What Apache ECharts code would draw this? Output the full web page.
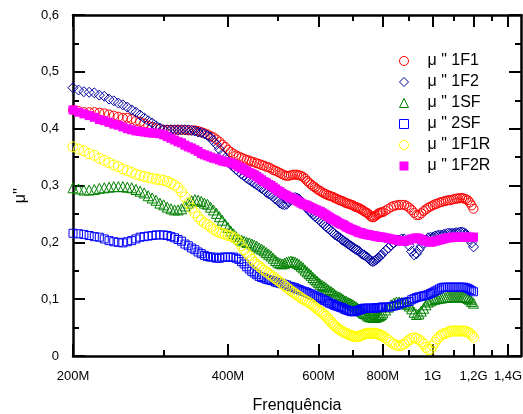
<!DOCTYPE html>
<html><head><meta charset="utf-8">
<script src="https://cdn.jsdelivr.net/npm/echarts@6/dist/echarts.min.js"></script>
<style>html,body{margin:0;padding:0;background:#fff}#c{width:523px;height:414px}</style>
</head><body><div id="c"></div>
<script>
// Frequency samples (MHz)
const freqMHz = [
200,205,210,215,220,225,230,235,240,245,
250,255,260,265,270,275,280,285,290,295,
300,305,310,315,320,325,330,335,340,345,
350,355,360,365,370,375,380,385,390,395,
400,
405,410,415,420,425,430,435,440,445,450,
455,460,465,470,475,480,485,490,495,500,
505,510,515,520,525,530,535,540,545,550,
555,560,565,570,575,580,585,590,595,600,
605,610,615,620,625,630,635,640,645,650,
655,660,665,670,675,680,685,690,695,700,
705,710,715,720,725,730,735,740,745,750,
755,760,765,770,775,780,785,790,795,800,
810,820,830,840,850,860,870,880,890,900,
910,920,930,940,950,960,970,980,990,1000,
1010,1020,1030,1040,1050,1060,1070,1080,1090,1100,
1110,1120,1130,1140,1150,1160,1170,1180,1190,1200];

const s1F1 = [
.433,.431,.429,.429,.429,.428,.427,.425,.423,.421,
.419,.419,.417,.414,.412,.409,.405,.403,.401,.400,
.398,.398,.398,.398,.398,.398,.398,.397,.397,.397,
.396,.394,.392,.390,.387,.385,.381,.377,.372,.368,
.363,
.359,.356,.353,.351,.349,.347,.345,.344,.342,.341,
.339,.338,.336,.335,.333,.332,.330,.327,.326,.324,
.322,.320,.318,.317,.317,.318,.319,.319,.319,.318,
.317,.315,.312,.308,.305,.302,.299,.297,.294,.292,
.290,.288,.286,.285,.283,.282,.281,.280,.278,.277,
.275,.274,.273,.272,.270,.269,.268,.267,.266,.265,
.263,.262,.261,.260,.258,.257,.255,.253,.252,.250,
.247,.245,.244,.245,.247,.249,.251,.252,.253,.253,
.256,.259,.262,.264,.265,.266,.266,.266,.264,.261,
.257,.252,.248,.248,.251,.255,.258,.261,.263,.265,
.267,.268,.270,.271,.272,.273,.274,.274,.275,.276,
.277,.277,.278,.278,.277,.276,.274,.270,.265,.259];

const s1F2 = [
.472,.468,.465,.464,.463,.459,.457,.452,.449,.445,
.442,.438,.433,.429,.424,.419,.414,.410,.405,.401,
.398,.398,.398,.398,.398,.398,.398,.398,.397,.396,
.394,.393,.391,.388,.385,.378,.372,.364,.355,.348,
.341,
.337,.333,.328,.324,.320,.317,.313,.310,.307,.304,
.301,.298,.295,.292,.288,.285,.283,.280,.276,.273,
.269,.267,.266,.267,.271,.275,.278,.279,.278,.276,
.272,.268,.264,.260,.256,.253,.249,.246,.243,.240,
.237,.234,.231,.228,.225,.223,.220,.217,.214,.212,
.210,.208,.205,.203,.201,.199,.197,.195,.193,.191,
.189,.187,.186,.184,.181,.179,.178,.176,.174,.172,
.169,.167,.166,.167,.169,.171,.173,.176,.178,.181,
.186,.190,.195,.199,.202,.204,.206,.206,.202,.194,
.184,.178,.180,.187,.193,.199,.204,.208,.209,.209,
.211,.212,.213,.213,.214,.215,.216,.216,.216,.216,
.217,.217,.218,.218,.217,.215,.211,.206,.199,.192];

const s1SF = [
.296,.294,.292,.292,.293,.295,.296,.297,.298,.298,
.298,.297,.296,.293,.290,.287,.282,.278,.274,.269,
.266,.262,.259,.257,.257,.259,.264,.269,.273,.275,
.274,.272,.269,.267,.262,.257,.251,.245,.239,.232,
.226,
.220,.215,.210,.206,.204,.202,.200,.199,.197,.195,
.193,.190,.188,.185,.182,.179,.176,.172,.168,.165,
.163,.162,.163,.165,.166,.167,.166,.165,.163,.161,
.158,.155,.151,.148,.145,.142,.138,.135,.132,.129,
.126,.124,.122,.120,.117,.115,.113,.111,.108,.106,
.104,.103,.101,.099,.097,.096,.094,.093,.091,.090,
.088,.086,.084,.082,.079,.077,.075,.074,.072,.070,
.069,.069,.068,.068,.068,.069,.070,.071,.073,.076,
.081,.086,.090,.093,.095,.095,.094,.093,.091,.088,
.083,.077,.073,.074,.079,.084,.090,.095,.097,.099,
.100,.101,.102,.102,.103,.103,.104,.104,.104,.104,
.104,.104,.104,.104,.104,.103,.101,.099,.096,.093];

const s2SF = [
.216,.215,.214,.212,.210,.209,.206,.203,.201,.200,
.199,.201,.203,.206,.209,.210,.211,.212,.213,.213,
.213,.212,.210,.208,.205,.202,.197,.194,.190,.187,
.183,.180,.177,.175,.174,.174,.172,.172,.174,.174,
.174,
.174,.174,.172,.170,.166,.162,.157,.153,.149,.146,
.143,.140,.138,.137,.135,.134,.133,.132,.130,.129,
.128,.127,.126,.125,.123,.122,.121,.120,.118,.117,
.115,.114,.113,.112,.110,.109,.107,.106,.104,.103,
.101,.100,.098,.097,.095,.093,.092,.091,.089,.088,
.087,.086,.085,.084,.082,.081,.080,.079,.078,.078,
.078,.079,.080,.081,.082,.083,.084,.084,.084,.084,
.084,.084,.084,.084,.085,.085,.085,.085,.086,.086,
.086,.086,.087,.088,.089,.091,.093,.094,.095,.096,
.099,.101,.103,.104,.105,.106,.107,.108,.110,.112,
.114,.116,.118,.120,.121,.121,.121,.121,.121,.121,
.121,.121,.121,.121,.121,.120,.119,.117,.115,.113];

const s1F1R = [
.368,.364,.361,.356,.353,.348,.344,.340,.336,.333,
.329,.326,.323,.320,.318,.316,.314,.313,.311,.310,
.309,.307,.304,.301,.296,.289,.280,.269,.260,.252,
.245,.239,.234,.231,.227,.223,.220,.217,.216,.214,
.212,
.211,.209,.206,.201,.194,.187,.181,.176,.170,.165,
.161,.158,.154,.151,.148,.145,.142,.139,.136,.133,
.130,.127,.124,.121,.118,.115,.112,.110,.107,.105,
.102,.100,.098,.096,.094,.092,.089,.086,.083,.081,
.078,.076,.073,.070,.066,.063,.059,.056,.053,.050,
.048,.046,.044,.042,.041,.040,.038,.037,.036,.035,
.034,.034,.034,.035,.036,.037,.038,.039,.040,.040,
.040,.040,.040,.040,.040,.039,.038,.037,.036,.035,
.032,.028,.024,.021,.019,.018,.019,.021,.025,.028,
.031,.032,.031,.029,.025,.021,.015,.011,.012,.018,
.024,.030,.034,.037,.039,.040,.042,.043,.044,.044,
.044,.044,.044,.044,.044,.043,.042,.040,.037,.033];

const s1F2R = [
.433,.429,.426,.423,.420,.416,.414,.411,.408,.406,
.403,.400,.398,.396,.395,.394,.393,.392,.392,.391,
.389,.386,.383,.380,.377,.375,.371,.368,.366,.363,
.360,.356,.354,.352,.350,.348,.347,.345,.343,.342,
.341,
.340,.338,.336,.333,.331,.328,.326,.323,.321,.319,
.316,.313,.310,.307,.305,.302,.300,.297,.294,.291,
.289,.286,.284,.282,.280,.278,.277,.275,.273,.271,
.269,.267,.266,.265,.263,.261,.260,.258,.257,.255,
.254,.252,.250,.248,.246,.244,.242,.240,.239,.237,
.235,.233,.232,.231,.229,.227,.226,.224,.223,.222,
.221,.220,.218,.217,.217,.216,.215,.214,.214,.213,
.213,.212,.212,.211,.211,.210,.210,.209,.209,.209,
.208,.207,.206,.205,.204,.203,.202,.202,.203,.204,
.206,.207,.208,.207,.205,.203,.202,.201,.200,.201,
.202,.203,.204,.205,.206,.207,.208,.208,.209,.209,
.209,.209,.209,.209,.209,.209,.209,.209,.209,.209];

const seriesNames = ['μ " 1F1','μ " 1F2','μ " 1SF','μ " 2SF','μ " 1F1R','μ " 1F2R'];
const xMajorMHz = [200,400,600,800,1000,1200,1400];
const xMajorLabels = ['200M','400M','600M','800M','1G','1,2G','1,4G'];
const xMinorMHz = [300,500,700,900,1100,1300];
const xMinMHz = 200, xMaxMHz = 1484;
const yMin = 0, yMax = 0.6, yStep = 0.1;
const xTitle = 'Frenquência', yTitle = "μ''";

const FONT = 'Arial, "Liberation Sans", Helvetica, sans-serif';
const lg = Math.log10;

function mk(name, vals, symbol, size, color, filled) {
  return {
    name, type: 'scatter', xAxisIndex: 0, yAxisIndex: 0,
    symbol, symbolSize: size, silent: true, animation: false,
    emphasis: {disabled: true},
    data: freqMHz.map((f, i) => [lg(f), vals[i]]),
    itemStyle: filled ? {color: color, opacity: 1}
      : {color: 'rgba(255,255,255,0)', borderColor: color, borderWidth: 1, opacity: 1}
  };
}

const axisLineStyle = {color: '#000', width: 2.5};
const tickMajor = {color: '#000', width: 2};
function xAx(pos, values, len, showLine, showLabel) {
  return {
    type: 'value', position: pos, min: lg(xMinMHz), max: lg(xMaxMHz),
    axisLine: {show: showLine, onZero: false, lineStyle: axisLineStyle},
    axisTick: {show: true, inside: true, length: len, lineStyle: tickMajor, customValues: values.map(lg)},
    axisLabel: showLabel ? {
      show: true, customValues: values.map(lg), margin: 14, color: '#000', fontSize: 13, fontFamily: FONT,
      formatter: v => { const i = xMajorMHz.indexOf(Math.round(Math.pow(10, v))); return i >= 0 ? xMajorLabels[i] : ''; }
    } : {show: false},
    splitLine: {show: false}, minorTick: {show: false}
  };
}
function yAx(pos, showLabel) {
  return {
    type: 'value', position: pos, min: yMin, max: yMax, interval: yStep,
    axisLine: {show: true, onZero: false, lineStyle: axisLineStyle},
    axisTick: {show: true, inside: true, length: 12, lineStyle: tickMajor},
    minorTick: {show: true, splitNumber: 2, length: 6, lineStyle: {color: '#000', width: 2}},
    axisLabel: showLabel ? {show: true, margin: 14, color: '#000', fontSize: 13, fontFamily: FONT,
      formatter: v => v === 0 ? '0' : v.toFixed(1).replace('.', ',')} : {show: false},
    splitLine: {show: false}
  };
}

const xAxes = [xAx('bottom', xMajorMHz, 12, true, true), xAx('bottom', xMinorMHz, 6, false, false),
               xAx('top', xMajorMHz, 12, true, false), xAx('top', xMinorMHz, 6, false, false)];
xAxes[0].name = xTitle; xAxes[0].nameLocation = 'middle'; xAxes[0].nameGap = 42;
xAxes[0].nameTextStyle = {fontSize: 16, color: '#000', fontFamily: FONT};
const yAxes = [yAx('left', true), yAx('right', false)];
yAxes[0].name = yTitle; yAxes[0].nameLocation = 'middle'; yAxes[0].nameGap = 44; yAxes[0].nameRotate = 90;
yAxes[0].nameTextStyle = {fontSize: 16, color: '#000', fontFamily: FONT, padding: [0, 20, 0, 0]};

const chart = echarts.init(document.getElementById('c'), null, {renderer: 'canvas'});
chart.setOption({
  animation: false,
  backgroundColor: '#fff',
  grid: {left: 73, right: 2, top: 15, bottom: 58, containLabel: false, outerBoundsMode: 'none'},
  xAxis: xAxes,
  yAxis: yAxes,
  legend: {
    orient: 'vertical', left: 399, top: 53, padding: 0, itemGap: 5,
    itemWidth: 9, itemHeight: 9, selectedMode: false,
    itemStyle: {borderWidth: 1},
    textStyle: {fontSize: 16, color: '#000', fontFamily: FONT, lineHeight: 16, padding: [0, 0, 0, 14]},
    data: seriesNames
  },
  series: [
    mk(seriesNames[0], s1F1, 'circle', 9, '#ff0000', false),
    mk(seriesNames[1], s1F2, 'diamond', 10, '#0000a0', false),
    mk(seriesNames[2], s1SF, 'triangle', 10, '#008000', false),
    mk(seriesNames[3], s2SF, 'rect', 8, '#0000ff', false),
    mk(seriesNames[4], s1F1R, 'circle', 10, '#ffff00', false),
    mk(seriesNames[5], s1F2R, 'rect', 9, '#ff00ff', true)
  ]
});
</script></body></html>
